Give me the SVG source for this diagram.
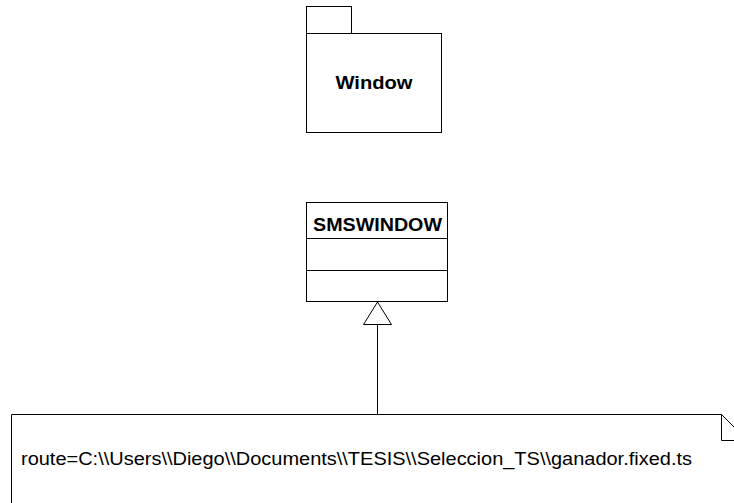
<svg xmlns="http://www.w3.org/2000/svg" width="734" height="503" viewBox="0 0 734 503">
<style>
.s{fill:#fff;stroke:#000;stroke-width:1}
.l{fill:none;stroke:#000;stroke-width:1}
.b{font-family:"Liberation Sans",Arial,sans-serif;font-size:18px;font-weight:bold;fill:#000}
.t{font-family:"Liberation Sans",Arial,sans-serif;font-size:17.5px;fill:#000}
</style>
<g id="pkg-window">
<rect class="s" x="306.5" y="6.5" width="45" height="27"/>
<rect class="s" x="306.5" y="33.5" width="135" height="99"/>
<text class="b" x="335.5" y="89" textLength="77" lengthAdjust="spacingAndGlyphs">Window</text>
</g>
<g id="class-smswindow">
<rect class="s" x="306.5" y="202.5" width="141" height="99"/>
<line class="l" x1="306.5" y1="238.5" x2="447.5" y2="238.5"/>
<line class="l" x1="306.5" y1="270.5" x2="447.5" y2="270.5"/>
<text class="b" x="313" y="231" textLength="129" lengthAdjust="spacingAndGlyphs">SMSWINDOW</text>
</g>
<g id="connectors">
<line class="l" x1="377.5" y1="324" x2="377.5" y2="414.5"/>
<polygon class="s" points="377.5,302 363.5,324.5 391.5,324.5"/>
</g>
<g id="note">
<path class="s" d="M11.5,414.5 H721.5 L747.5,440.5 V520 H11.5 Z"/>
<path class="l" d="M721.5,414.5 V440.5 H747.5"/>
<text class="t" x="21" y="465" textLength="671" lengthAdjust="spacingAndGlyphs">route=C:\\Users\\Diego\\Documents\\TESIS\\Seleccion_TS\\ganador.fixed.ts</text>
</g>
</svg>
